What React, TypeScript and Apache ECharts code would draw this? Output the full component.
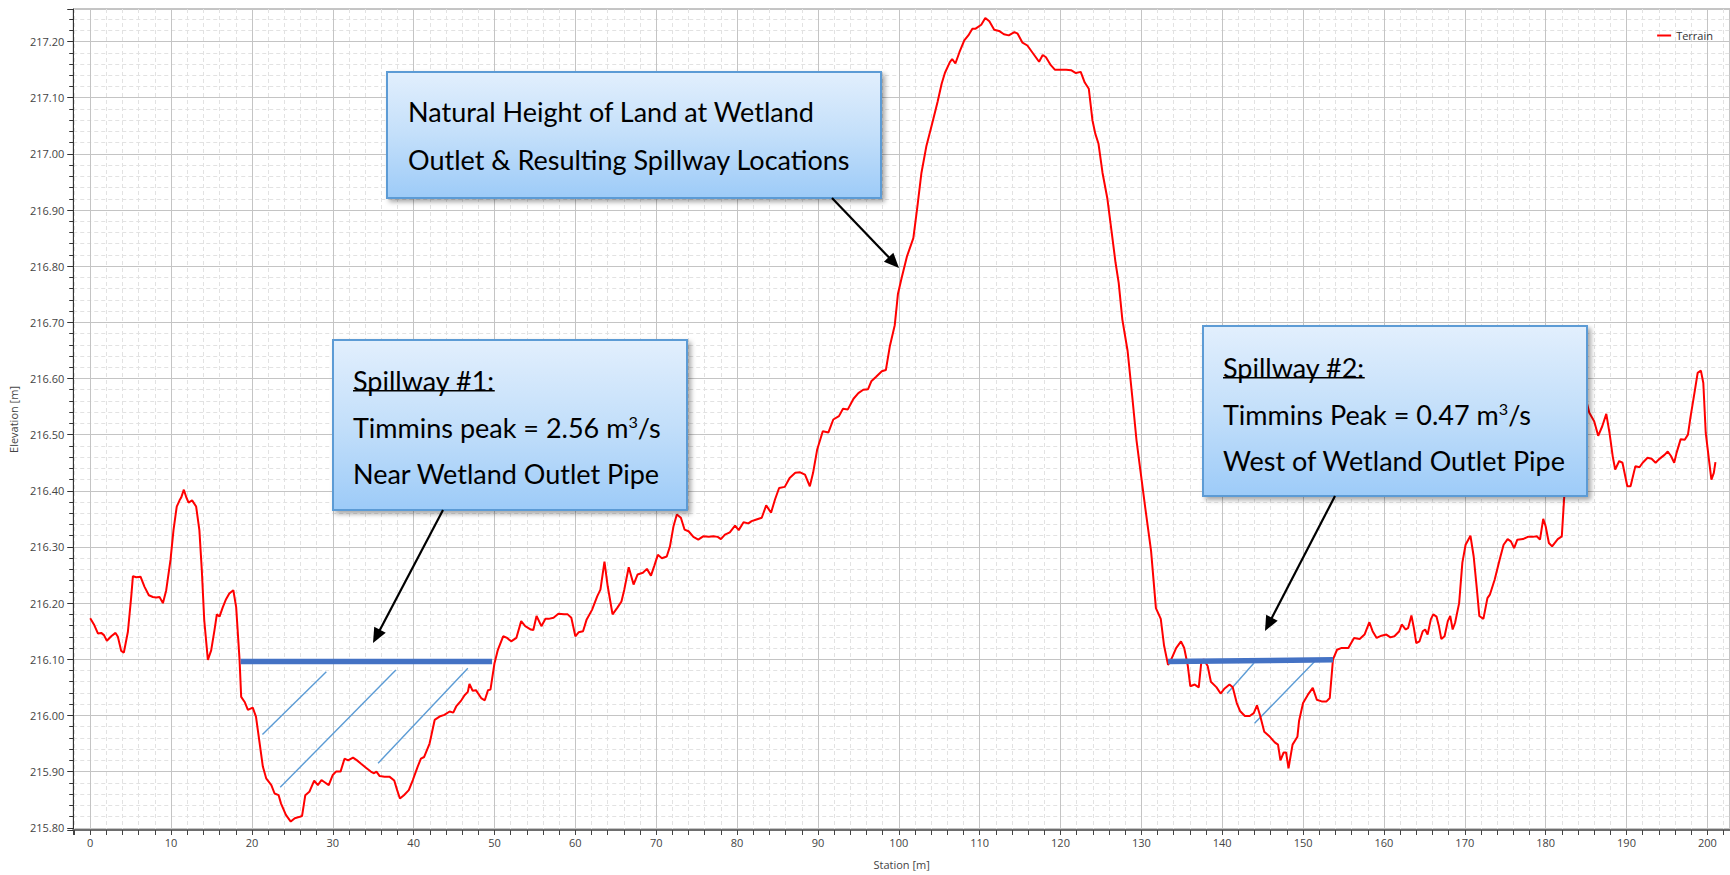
import React, { useEffect, useRef } from "react";
import * as echarts from "echarts";

// ---------- DATA ----------
// Terrain profile, [station m, elevation m]
const terrainWest: number[][] = [
  [0, 216.173], [0.5, 216.161], [0.95, 216.146], [1.36, 216.147], [1.7, 216.143], [2.06, 216.133], [2.6, 216.141],
  [3.13, 216.147], [3.42, 216.14], [3.83, 216.115], [4.16, 216.112], [4.66, 216.149], [5.07, 216.211], [5.28, 216.248],
  [5.69, 216.246], [6.22, 216.247], [6.72, 216.229], [7.25, 216.214], [7.75, 216.211], [8.16, 216.21], [8.57, 216.211],
  [8.99, 216.2], [9.4, 216.223], [9.93, 216.277], [10.3, 216.33], [10.7, 216.372], [11.05, 216.383], [11.25, 216.388],
  [11.58, 216.402], [11.87, 216.389], [12.16, 216.379], [12.6, 216.383], [13.1, 216.372], [13.5, 216.33], [13.8, 216.259],
  [14.1, 216.17], [14.55, 216.099], [14.96, 216.116], [15.37, 216.152], [15.66, 216.18], [15.99, 216.176], [16.4, 216.193],
  [16.8, 216.207], [17.2, 216.217], [17.7, 216.223], [18.05, 216.193], [18.47, 216.099], [18.67, 216.033], [19.1, 216.024],
  [19.5, 216.01], [20.1, 216.014], [20.5, 215.998], [20.9, 215.956], [21.35, 215.909], [21.76, 215.888], [22.4, 215.876],
  [22.8, 215.861], [23.3, 215.858], [23.6, 215.843], [24.2, 215.823], [24.8, 215.811], [25.3, 215.817], [25.8, 215.819],
  [26.2, 215.821], [26.6, 215.858], [27.1, 215.864], [27.7, 215.884], [28.15, 215.876], [28.6, 215.885], [28.9, 215.882],
  [29.5, 215.876], [30.0, 215.894], [30.4, 215.9], [30.96, 215.9], [31.45, 215.923], [31.9, 215.92], [32.5, 215.925],
  [33.0, 215.92], [33.5, 215.914], [34.1, 215.907], [34.7, 215.9], [35.1, 215.897], [35.4, 215.9], [35.8, 215.892],
  [36.4, 215.891], [37.0, 215.891], [37.6, 215.884], [37.96, 215.867], [38.3, 215.852], [38.8, 215.858], [39.4, 215.867],
  [39.9, 215.885], [40.5, 215.909], [40.9, 215.923], [41.3, 215.926], [41.97, 215.95], [42.6, 215.992], [43.2, 215.998],
  [43.8, 216.001], [44.45, 216.007], [44.9, 216.005], [45.26, 216.016], [45.9, 216.027], [46.3, 216.036], [46.7, 216.042],
  [46.9, 216.056], [47.3, 216.044], [47.7, 216.045], [48.35, 216.031], [48.8, 216.027], [49.2, 216.045], [49.5, 216.046],
  [50.0, 216.093], [50.4, 216.116],
];

const terrainRise: number[][] = [
  [50.5, 216.12], [51.07, 216.141], [51.56, 216.138], [52.06, 216.132], [52.7, 216.138], [53.3, 216.168], [53.8, 216.159],
  [54.5, 216.153], [54.8, 216.152], [55.2, 216.177], [55.8, 216.159], [56.3, 216.172], [56.7, 216.172], [57.3, 216.174],
  [57.9, 216.181], [58.6, 216.18], [59.05, 216.18], [59.5, 216.174], [60.0, 216.141], [60.4, 216.148], [60.95, 216.15],
  [61.4, 216.171], [62.06, 216.188], [62.7, 216.212], [63.1, 216.224], [63.6, 216.274], [64.0, 216.23], [64.6, 216.18],
  [65.2, 216.192], [65.7, 216.203], [66.05, 216.224], [66.6, 216.264], [67.2, 216.233], [67.7, 216.251], [68.35, 216.254],
  [68.85, 216.261], [69.35, 216.249], [69.75, 216.266], [70.2, 216.286], [70.7, 216.28], [71.3, 216.283], [71.7, 216.301],
  [72.14, 216.337], [72.55, 216.358], [73.05, 216.352], [73.5, 216.331], [74.0, 216.328], [74.6, 216.318], [75.2, 216.313],
  [75.8, 216.319], [76.5, 216.318], [77.1, 216.319], [77.6, 216.318], [78.0, 216.314], [78.5, 216.322], [79.1, 216.326],
  [79.75, 216.338], [80.2, 216.33], [80.8, 216.344], [81.4, 216.342], [81.8, 216.346], [82.4, 216.349], [83.05, 216.352],
  [83.6, 216.374], [84.2, 216.361], [84.7, 216.385], [85.2, 216.405], [85.9, 216.407], [86.5, 216.423], [87.2, 216.432],
  [87.8, 216.433], [88.4, 216.429], [89.0, 216.408], [89.4, 216.432], [89.9, 216.473], [90.6, 216.506], [91.3, 216.504],
  [91.9, 216.527], [92.6, 216.533], [93.1, 216.546], [93.7, 216.545], [94.4, 216.564], [95.0, 216.574], [95.6, 216.58],
  [96.2, 216.581], [96.6, 216.595], [97.2, 216.603], [97.9, 216.613], [98.4, 216.615],
];

const terrainCrest: number[][] = [
  [98.9, 216.658], [99.5, 216.695], [99.9, 216.751], [100.35, 216.779], [101.0, 216.817], [101.8, 216.85], [102.3, 216.906],
  [102.8, 216.966], [103.4, 217.013], [103.9, 217.041], [104.3, 217.064], [104.8, 217.093], [105.3, 217.125], [105.7, 217.144],
  [106.3, 217.163], [106.6, 217.169], [107.0, 217.161], [107.5, 217.181], [108.1, 217.202], [108.6, 217.211], [109.1, 217.223],
  [109.5, 217.223], [110.2, 217.23], [110.7, 217.242], [111.2, 217.236], [111.8, 217.221], [112.4, 217.219], [113.0, 217.213],
  [113.6, 217.211], [114.3, 217.217], [114.7, 217.214], [115.3, 217.198], [115.9, 217.193], [116.5, 217.181], [117.35, 217.164],
  [117.8, 217.176], [118.2, 217.172], [118.8, 217.158], [119.3, 217.15], [120.0, 217.15], [120.7, 217.15], [121.3, 217.149],
  [121.9, 217.144], [122.5, 217.146], [123.0, 217.127], [123.5, 217.116], [123.95, 217.06], [124.3, 217.036], [124.7, 217.018],
  [125.2, 216.966], [125.8, 216.92], [126.3, 216.864], [126.8, 216.807], [127.2, 216.77], [127.65, 216.705], [128.3, 216.649],
  [128.9, 216.564], [129.4, 216.49], [129.9, 216.434], [130.5, 216.368], [131.2, 216.293], [131.8, 216.191], [132.4, 216.172],
  [132.8, 216.125], [133.3, 216.09], [133.7, 216.1], [134.3, 216.12], [134.9, 216.132], [135.3, 216.12], [135.75, 216.088],
  [136.05, 216.052], [136.6, 216.055], [137.1, 216.05], [137.4, 216.093], [137.7, 216.1], [138.2, 216.088], [138.6, 216.06],
  [139.3, 216.05], [139.8, 216.039], [140.3, 216.048], [140.9, 216.055], [141.3, 216.05], [141.8, 216.022], [142.2, 216.008],
  [142.8, 215.999], [143.4, 215.999], [143.9, 216.004], [144.3, 216.018], [144.7, 215.999], [145.2, 215.971], [145.9, 215.962],
  [146.5, 215.952], [146.9, 215.948], [147.2, 215.92], [147.6, 215.934], [147.9, 215.934], [148.2, 215.906], [148.7, 215.948],
  [149.3, 215.962],
];

const terrainEast: number[][] = [
  [149.5, 215.99], [150.0, 216.022], [150.6, 216.037], [151.2, 216.049], [151.7, 216.028], [152.3, 216.025], [152.9, 216.025],
  [153.3, 216.031], [153.7, 216.1], [154.2, 216.117], [154.7, 216.12], [155.6, 216.12], [156.3, 216.138], [157.0, 216.136],
  [157.6, 216.144], [158.2, 216.166], [158.6, 216.15], [159.1, 216.138], [159.7, 216.142], [160.3, 216.144], [160.8, 216.139],
  [161.3, 216.141], [161.9, 216.15], [162.2, 216.162], [162.7, 216.153], [163.0, 216.156], [163.4, 216.178], [163.7, 216.156],
  [164.0, 216.129], [164.4, 216.132], [164.8, 216.15], [165.1, 216.153], [165.4, 216.144], [165.8, 216.171], [166.1, 216.18],
  [166.5, 216.176], [166.8, 216.159], [167.1, 216.136], [167.5, 216.141], [167.9, 216.168], [168.2, 216.177], [168.5, 216.153],
  [168.8, 216.165], [169.3, 216.2], [169.7, 216.272], [170.1, 216.304], [170.7, 216.32], [171.1, 216.283], [171.5, 216.224],
  [171.8, 216.177], [172.3, 216.172], [172.8, 216.209], [173.1, 216.215], [173.7, 216.242], [174.3, 216.277], [174.8, 216.304],
  [175.3, 216.314], [175.7, 216.31], [176.1, 216.298], [176.5, 216.313], [177.2, 216.314], [177.8, 216.318], [178.4, 216.318],
  [178.9, 216.319], [179.3, 216.313], [179.7, 216.35], [180.0, 216.337], [180.4, 216.307], [180.8, 216.301], [181.5, 216.314],
  [182.0, 216.319], [182.3, 216.39], [183.0, 216.46], [183.6, 216.54], [184.2, 216.6], [184.6, 216.58], [185.0, 216.562],
  [185.4, 216.539], [186.0, 216.524], [186.5, 216.498], [187.0, 216.515], [187.5, 216.537], [187.9, 216.503], [188.3, 216.461],
  [188.6, 216.438], [189.1, 216.453], [189.5, 216.45], [190.1, 216.408], [190.5, 216.408], [191.1, 216.444], [191.6, 216.442],
  [192.0, 216.45], [192.6, 216.459], [193.1, 216.457], [193.6, 216.45], [194.0, 216.456], [194.7, 216.464], [195.1, 216.47],
  [195.5, 216.462], [195.9, 216.45], [196.2, 216.468], [196.7, 216.492], [197.2, 216.491], [197.6, 216.5], [197.9, 216.53],
  [198.4, 216.574], [198.8, 216.61], [199.2, 216.614], [199.5, 216.592], [199.8, 216.503], [200.2, 216.455], [200.5, 216.42],
  [200.8, 216.432], [201.0, 216.451],
];

// Spillway crest lines [station, elevation]
const spillway1: number[][] = [[18.6, 216.096], [49.7, 216.096]];
const spillway2: number[][] = [[133.3, 216.096], [153.7, 216.099]];

// Hatch strokes below the spillway crests: start and end [station, elevation]
const hatchFrom: number[][] = [[21.3, 215.966], [23.5, 215.872], [35.6, 215.915], [140.6, 216.039], [144.0, 215.986]];
const hatchTo: number[][] = [[29.2, 216.078], [37.8, 216.081], [46.7, 216.084], [143.9, 216.093], [151.7, 216.1]];

// Axis extents
const stationRange = [-2.1, 202.8];
const elevationRange = [215.796, 217.258];

// Annotation texts
const note1Lines = ["Natural Height of Land at Wetland", "Outlet & Resulting Spillway Locations"];
const note2Lines = ["Spillway #1:", "Timmins peak = 2.56 m{sup|3}/s", "Near Wetland Outlet Pipe"];
const note3Lines = ["Spillway #2:", "Timmins Peak = 0.47 m{sup|3}/s", "West of Wetland Outlet Pipe"];

// ---------- helpers ----------
const BOX_FONT = "Lato";
const AXIS_FONT = "'Open Sans', 'Noto Sans', sans-serif";

function measure(text: string, size: number): number {
  const c = document.createElement("canvas").getContext("2d");
  if (!c) return text.length * size * 0.5;
  c.font = `${size}px ${BOX_FONT}`;
  return c.measureText(text).width;
}

function arrow(sx: number, sy: number, tx: number, ty: number): any[] {
  const dx = tx - sx;
  const dy = ty - sy;
  const len = Math.hypot(dx, dy);
  const ux = dx / len;
  const uy = dy / len;
  const L = 15;
  const W = 6.5;
  const bx = tx - ux * L;
  const by = ty - uy * L;
  const nx = -uy;
  const ny = ux;
  return [
    {
      type: "line",
      z: 120,
      shape: { x1: sx, y1: sy, x2: bx + ux * 2, y2: by + uy * 2 },
      style: { stroke: "#000", lineWidth: 2.2 },
    },
    {
      type: "polygon",
      z: 121,
      shape: { points: [[tx, ty], [bx + nx * W, by + ny * W], [bx - nx * W, by - ny * W]] },
      style: { fill: "#000" },
    },
  ];
}

function noteBox(
  x: number, y: number, w: number, h: number, textX: number, lines: string[], lineYs: number[],
  fs: number, underlineFirst: boolean
): any[] {
  const out: any[] = [
    {
      type: "rect",
      z: 110,
      shape: { x, y, width: w, height: h },
      style: {
        fill: new echarts.graphic.LinearGradient(0, 0, 0, 1, [
          { offset: 0, color: "#e2effd" },
          { offset: 0.5, color: "#c3dffa" },
          { offset: 1, color: "#9dcbf8" },
        ]),
        stroke: "#5b9bd5",
        lineWidth: 2,
        shadowBlur: 5,
        shadowOffsetX: 3,
        shadowOffsetY: 3,
        shadowColor: "rgba(0,0,0,0.35)",
      },
    },
  ];
  lines.forEach((t, i) => {
    out.push({
      type: "text",
      z: 111,
      x: textX,
      y: lineYs[i],
      style: {
        text: t,
        fontSize: fs,
        fontFamily: BOX_FONT,
        fill: "#000",
        align: "left",
        verticalAlign: "middle",
        rich: {
          sup: { fontSize: fs * 0.6, fontFamily: BOX_FONT, fill: "#000", verticalAlign: "top" },
        },
      },
    });
  });
  if (underlineFirst) {
    const uw = measure(lines[0], fs);
    const uy = lineYs[0] + fs * 0.4;
    out.push({
      type: "line",
      z: 112,
      shape: { x1: textX, y1: uy, x2: textX + uw, y2: uy },
      style: { stroke: "#000", lineWidth: 1.6 },
    });
  }
  return out;
}

function buildOption(): any {
  const fs = (100 * 407) / measure(note1Lines[0], 100);

  const graphic: any[] = [
    ...noteBox(387, 72, 494, 126, 408, note1Lines, [111.7, 159], fs, false),
    ...noteBox(333, 340, 354, 170, 353, note2Lines, [380, 427, 473], fs, true),
    ...noteBox(1203, 326, 384, 170, 1223, note3Lines, [367, 414, 460], fs, true),
    ...arrow(832, 198, 899, 268),
    ...arrow(443, 510, 373, 643),
    ...arrow(1335, 496, 1265, 631),
  ];

  const terrain = [...terrainWest, ...terrainRise, ...terrainCrest, ...terrainEast];

  const hatchSeries = hatchFrom.map((p, i) => ({
    type: "line",
    name: "hatch" + i,
    data: [p, hatchTo[i]],
    symbol: "none",
    silent: true,
    z: 2,
    lineStyle: { color: "#5b9bd5", width: 1.4 },
  }));

  return {
    animation: false,
    backgroundColor: "#ffffff",
    grid: {
      left: 72, right: 0, top: 9, bottom: 45,
      show: true, borderColor: "#8a8a8a", borderWidth: 1, backgroundColor: "transparent",
    },
    legend: {
      data: ["Terrain"],
      right: 12,
      top: 25,
      icon: "rect",
      itemWidth: 14,
      itemHeight: 2,
      itemGap: 5,
      textStyle: { fontSize: 11, color: "#333", fontFamily: AXIS_FONT },
    },
    xAxis: {
      type: "value",
      min: stationRange[0],
      max: stationRange[1],
      splitNumber: 20,
      minInterval: 10,
      maxInterval: 10,
      name: "Station [m]",
      nameLocation: "middle",
      nameGap: 29,
      nameTextStyle: { fontSize: 11, color: "#444", fontFamily: AXIS_FONT },
      axisLine: { show: true, onZero: false, lineStyle: { color: "#6e6e6e", width: 2 } },
      axisTick: { show: true, length: 5, lineStyle: { color: "#444" } },
      minorTick: { show: true, splitNumber: 5, length: 5, lineStyle: { color: "#444" } },
      splitLine: { show: true, lineStyle: { color: "#c4c4c4", width: 1 } },
      minorSplitLine: { show: true, lineStyle: { color: "#e2e2e2", width: 1, type: [4, 3] } },
      axisLabel: {
        fontSize: 11, color: "#444", margin: 7, fontFamily: AXIS_FONT,
        showMinLabel: false, showMaxLabel: false,
      },
    },
    yAxis: {
      type: "value",
      min: elevationRange[0],
      max: elevationRange[1],
      splitNumber: 15,
      minInterval: 0.1,
      maxInterval: 0.1,
      name: "Elevation [m]",
      nameLocation: "middle",
      nameGap: 54,
      nameTextStyle: { fontSize: 11, color: "#444", fontFamily: AXIS_FONT },
      axisLine: { show: true, onZero: false, lineStyle: { color: "#333", width: 1 } },
      axisTick: { show: true, length: 6, lineStyle: { color: "#333" } },
      minorTick: { show: true, splitNumber: 5, length: 4, lineStyle: { color: "#333" } },
      splitLine: { show: true, lineStyle: { color: "#c4c4c4", width: 1 } },
      minorSplitLine: { show: true, lineStyle: { color: "#e2e2e2", width: 1, type: [4, 3] } },
      axisLabel: {
        fontSize: 11, color: "#444", margin: 9, fontFamily: AXIS_FONT,
        showMinLabel: false, showMaxLabel: false,
        formatter: (v: number) => v.toFixed(2),
      },
    },
    series: [
      {
        type: "line",
        name: "Terrain",
        data: terrain,
        symbol: "none",
        z: 3,
        color: "#ff0000",
        lineStyle: { color: "#ff0000", width: 2 },
      },
      ...hatchSeries,
      {
        type: "line",
        name: "spillway1",
        data: spillway1,
        symbol: "none",
        silent: true,
        z: 4,
        lineStyle: { color: "#4472c4", width: 5.5 },
      },
      {
        type: "line",
        name: "spillway2",
        data: spillway2,
        symbol: "none",
        silent: true,
        z: 4,
        lineStyle: { color: "#4472c4", width: 5.5 },
      },
    ],
    graphic,
  };
}

export default function App() {
  const ref = useRef<HTMLDivElement>(null);
  useEffect(() => {
    if (!ref.current) return;
    const chart = echarts.init(ref.current, undefined, { renderer: "svg" });
    chart.setOption(buildOption());
    return () => {
      chart.dispose();
    };
  }, []);
  return (
    <div
      ref={ref}
      style={{ position: "fixed", left: 0, top: 0, width: 1730, height: 875, background: "#fff" }}
    />
  );
}
